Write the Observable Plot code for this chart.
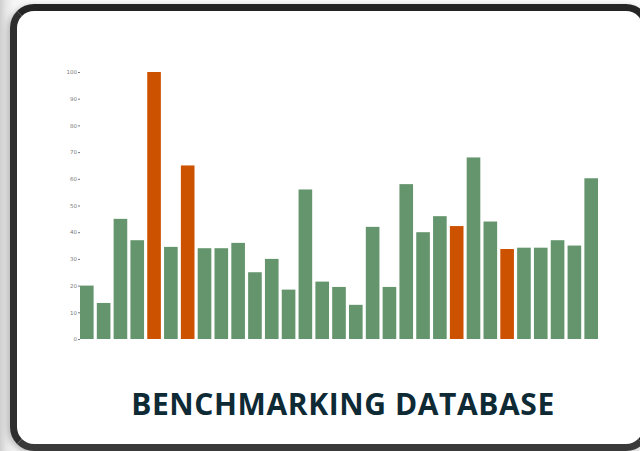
<!DOCTYPE html>
<html>
<head>
<meta charset="utf-8">
<script src="https://cdn.jsdelivr.net/npm/d3@7"></script>
<script src="https://cdn.jsdelivr.net/npm/@observablehq/plot@0.6"></script>
<style>
  html, body { margin: 0; padding: 0; }
  body {
    width: 640px; height: 451px; overflow: hidden; position: relative;
    background: linear-gradient(to right, #cfcfcf 0px, #e6e6e6 6px, #f6f6f6 14px, #fbfbfb 40px);
  }
  #frame {
    position: absolute; left: 10px; top: 4px; width: 626px; height: 433px;
    border: 7px solid #252525; border-bottom-color: #3a3a3a; border-left-color: #2e2e2e;
    border-radius: 24px; background: #ffffff;
    box-shadow: -2px 2px 6px rgba(0,0,0,0.25);
  }
  #chart { position: absolute; left: 0; top: 0; z-index: 2; }
  #title {
    position: absolute; left: 0; width: 686px; top: 383px; z-index: 3;
    text-align: center; font-family: "Open Sans", sans-serif; font-weight: 700;
    font-size: 30px; color: #0e2a35; letter-spacing: 0.6px;
  }
</style>
</head>
<body>
<div id="frame"></div>
<div id="chart"></div>
<div id="title">BENCHMARKING DATABASE</div>
<script>
const categories = ["1","2","3","4","5","6","7","8","9","10","11","12","13","14","15","16","17","18","19","20","21","22","23","24","25","26","27","28","29","30","31"];
const values = [20, 13.5, 45, 37, 100, 34.5, 65, 34, 34, 36, 25, 30, 18.5, 56, 21.5, 19.5, 12.8, 42, 19.5, 58, 40, 46, 42.3, 68, 44, 33.7, 34.2, 34.2, 37, 35, 60.2];
const highlighted = ["5", "7", "23", "26"];
const yTicks = [0, 10, 20, 30, 40, 50, 60, 70, 80, 90, 100];

const data = categories.map((c, i) => ({cat: c, value: values[i], hi: highlighted.includes(c)}));

const chart = Plot.plot({
  width: 640,
  height: 350,
  marginLeft: 80,
  marginRight: 42,
  marginTop: 72,
  marginBottom: 11,
  style: {background: "transparent", fontFamily: "DejaVu Sans, sans-serif"},
  x: {domain: categories, paddingInner: 0.19, paddingOuter: 0, round: false, axis: null},
  y: {domain: [0, 100], nice: false},
  marks: [
    Plot.axisY({ticks: yTicks, tickSize: 2, tickPadding: 1.5, fontSize: 5.5, color: "#7a7a7a", label: null}),
    Plot.barY(data, {x: "cat", y: "value", fill: d => d.hi ? "#cc5200" : "#64956c"})
  ]
});
document.getElementById("chart").appendChild(chart);
</script>
</body>
</html>
